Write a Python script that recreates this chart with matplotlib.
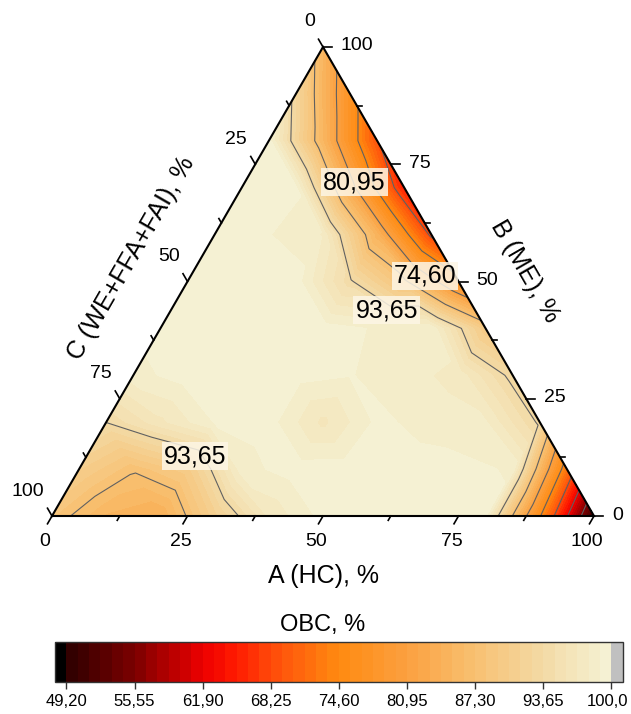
import numpy as np
import matplotlib.pyplot as plt
import matplotlib.tri as mtri
import matplotlib.transforms as mtransforms
from matplotlib.colors import LinearSegmentedColormap

plt.rcParams['font.family'] = ['Liberation Sans', 'DejaVu Sans']

# OBC values on a 10 % ternary grid, one list per B (ME) level,
# entries run over A (HC) = 0, 10, 20, ... (C = 100 - A - B)
row_b0 = [88.5, 85.0, 84.0, 91.0, 97.0, 99.3, 99.6, 99.6, 99.3, 75.0, 49.5]
row_b10 = [90.5, 87.6, 90.0, 98.5, 99.5, 99.6, 99.5, 99.3, 98.8, 72.0]
row_b20 = [93.7, 96.5, 99.0, 99.4, 96.5, 99.2, 98.5, 98.0, 93.3]
row_b30 = [98.5, 99.5, 99.6, 99.4, 99.0, 98.3, 97.5, 93.0]
row_b40 = [99.5, 99.7, 99.7, 99.5, 98.8, 98.8, 89.5]
row_b50 = [99.7, 99.7, 99.5, 94.0, 88.0, 76.4]
row_b60 = [99.7, 99.0, 97.8, 84.4, 67.4]
row_b70 = [99.6, 99.2, 82.6, 65.0]
row_b80 = [99.5, 85.1, 68.8]
row_b90 = [92.6, 77.0]
row_b100 = [85.0]
rows = [row_b0, row_b10, row_b20, row_b30, row_b40, row_b50,
        row_b60, row_b70, row_b80, row_b90, row_b100]

cb_ticks = [49.20, 55.55, 61.90, 68.25, 74.60, 80.95, 87.30, 93.65, 100.0]
cb_tick_labels = ['49,20', '55,55', '61,90', '68,25', '74,60', '80,95', '87,30', '93,65', '100,0']
axis_ticks = [0, 25, 50, 75, 100]

# contour labels: (level, A, B)
contour_labels = [(80.95, 20.2, 71.2), (74.60, 43.2, 51.2),
                  (93.65, 39.8, 43.9), (93.65, 20.0, 12.7)]

SQ = np.sqrt(3) / 2


def tern_xy(a, b):
    return a + b / 2.0, b * SQ


# build points and the lattice triangles
a_pts, b_pts, vals, index = [], [], [], {}
for i, row in enumerate(rows):
    for j, v in enumerate(row):
        index[(i, j)] = len(vals)
        a_pts.append(10 * j)
        b_pts.append(10 * i)
        vals.append(v)
triangles = []
for i in range(10):
    for j in range(10 - i):
        triangles.append([index[(i, j)], index[(i, j + 1)], index[(i + 1, j)]])
        if j <= 8 - i:
            triangles.append([index[(i, j + 1)], index[(i + 1, j + 1)], index[(i + 1, j)]])
x, y = tern_xy(np.array(a_pts, float), np.array(b_pts, float))
tri = mtri.Triangulation(x, y, triangles)

cmap = LinearSegmentedColormap.from_list('fire', [
    (0.0, '#2e0000'), (0.125, '#7c0000'), (0.25, '#ee0000'), (0.31, '#ff1a00'),
    (0.375, '#ff4a0a'), (0.5, '#ff8a10'), (0.625, '#fba040'), (0.75, '#f8c070'),
    (0.875, '#f3daa5'), (1.0, '#f5f3d6')])
cmap.set_under('black')
cmap.set_over('#c0c0c0')

levels = np.linspace(49.2, 100.0, 49)
line_levels = levels[6:-1:6]

fig = plt.figure(figsize=(6.31, 7.14), dpi=100)
ax = fig.add_axes([52 / 631, 198 / 714, 542 / 631, 469 / 714])
ax.set_xlim(0, 100)
ax.set_ylim(0, 100 * SQ)
ax.axis('off')

cf = ax.tricontourf(tri, vals, levels=levels, cmap=cmap, extend='both')
ax.tricontour(tri, vals, levels=line_levels, colors='#606060', linewidths=0.8)

for lev, la, lb in contour_labels:
    lx, ly = tern_xy(la, lb)
    ax.text(lx, ly, f'{lev:.2f}'.replace('.', ','), fontsize=18, ha='center', va='center',
            bbox=dict(boxstyle='square,pad=0.08', fc='#fdf6e6', ec='none', alpha=0.85))

# triangle frame
ax.plot([0, 100, 50, 0], [0, 0, 100 * SQ, 0], color='black', lw=1.5,
        clip_on=False, solid_joinstyle='miter')

# ticks: bottom (A) down-left, right (B) to the right, left (C) up-left
px = 5.416
for t in np.arange(0, 100.1, 12.5):
    L = (9 if t % 25 == 0 else 5) / px
    bx, by = tern_xy(t, 0)
    ax.plot([bx, bx - 0.5 * L], [by, by - SQ * L], color='black', lw=1.2, clip_on=False)
    rx, ry = tern_xy(100 - t, t)
    ax.plot([rx, rx + L], [ry, ry], color='black', lw=1.2, clip_on=False)
    lx, ly = tern_xy(0, 100 - t)
    ax.plot([lx, lx - 0.5 * L], [ly, ly + SQ * L], color='black', lw=1.2, clip_on=False)

for t in axis_ticks:
    bx, by = tern_xy(t, 0)
    ax.annotate(str(t), (bx, by), xytext=(-7, -25), textcoords='offset pixels',
                ha='center', va='center', fontsize=14, annotation_clip=False)
    rx, ry = tern_xy(100 - t, t)
    ax.annotate(str(t), (rx, ry), xytext=(18, 1), textcoords='offset pixels',
                ha='left', va='center', fontsize=14, annotation_clip=False)
    lx, ly = tern_xy(0, 100 - t)
    ax.annotate(str(t), (lx, ly), xytext=(-8, 25), textcoords='offset pixels',
                ha='right', va='center', fontsize=14, annotation_clip=False)

fig.text(323 / 631, 1 - 576 / 714, 'A (HC), %', ha='center', va='center', fontsize=18)
fig.text(525 / 631, 1 - 271 / 714, 'B (ME), %', ha='center', va='center', fontsize=18,
         rotation=-60, rotation_mode='anchor')
fig.text(131 / 631, 1 - 258 / 714, 'C (WE+FFA+FAI), %', ha='center', va='center',
         fontsize=18, rotation=60, rotation_mode='anchor')

# colour bar
cax = fig.add_axes([55 / 631, 1 - 682 / 714, 567.7 / 631, 40 / 714])
cb = fig.colorbar(cf, cax=cax, orientation='horizontal', extendrect=True, extendfrac=0.021)
cb.set_ticks(cb_ticks)
cb.set_ticklabels(cb_tick_labels)
cb.minorticks_off()
cb.ax.tick_params(labelsize=12, length=5, width=1, direction='out', color='#333333')
cb.outline.set_linewidth(1)
cb.outline.set_edgecolor('#333333')
# keep the last label inside the figure
last = cb.ax.get_xticklabels()[-1]
last.set_transform(last.get_transform() +
                   mtransforms.ScaledTranslation(-4 / 100, 0, fig.dpi_scale_trans))
fig.text(323 / 631, 1 - 625 / 714, 'OBC, %', ha='center', va='center', fontsize=17)

fig.savefig('out.png', dpi=100)
